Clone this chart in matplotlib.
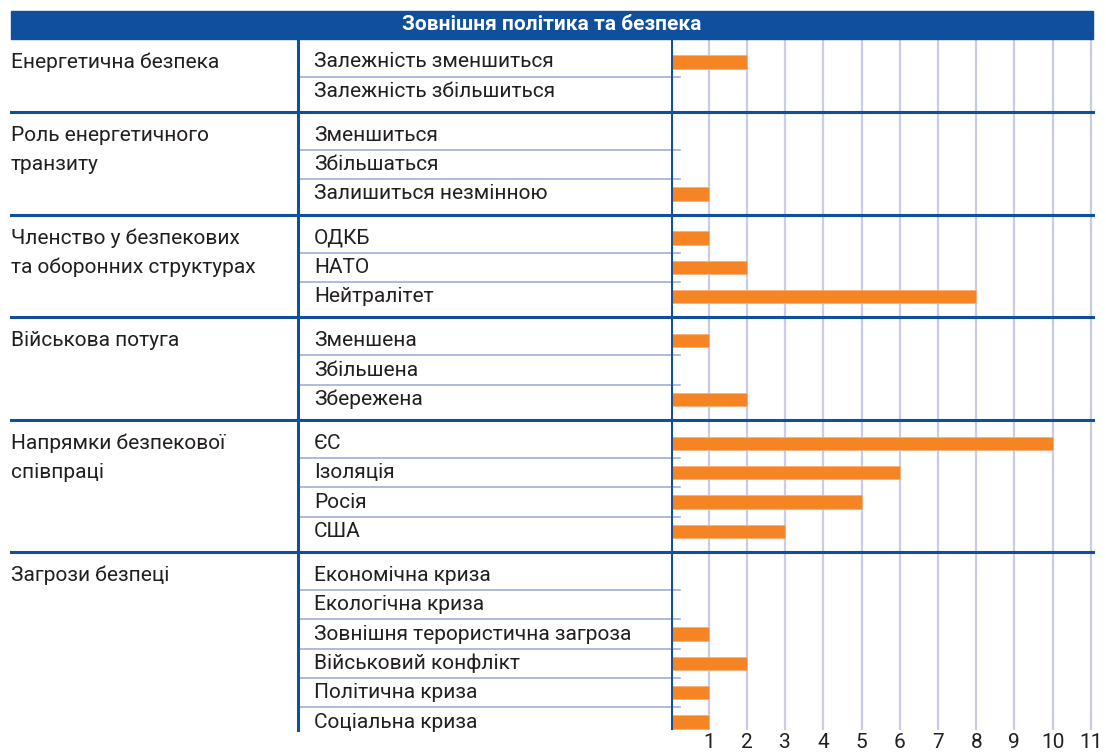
import numpy as np
import matplotlib.pyplot as plt
from matplotlib.transforms import blended_transform_factory

plt.rcParams['font.family'] = ['Roboto', 'DejaVu Sans']

title = "Зовнішня політика та безпека"
groups = [
    ["Енергетична безпека"],
    ["Роль енергетичного", "транзиту"],
    ["Членство у безпекових", "та оборонних структурах"],
    ["Військова потуга"],
    ["Напрямки безпекової", "співпраці"],
    ["Загрози безпеці"],
]
items = [
    ["Залежність зменшиться", "Залежність збільшиться"],
    ["Зменшиться", "Збільшаться", "Залишиться незмінною"],
    ["ОДКБ", "НАТО", "Нейтралітет"],
    ["Зменшена", "Збільшена", "Збережена"],
    ["ЄС", "Ізоляція", "Росія", "США"],
    ["Економічна криза", "Екологічна криза", "Зовнішня терористична загроза",
     "Військовий конфлікт", "Політична криза", "Соціальна криза"],
]
values = [
    [2, 0],
    [0, 0, 1],
    [1, 2, 8],
    [1, 0, 2],
    [10, 6, 5, 3],
    [0, 0, 1, 2, 1, 1],
]
ticks = list(range(1, 12))

blue = "#0f4f9e"
orange = "#f48424"
grid_c = "#c9cce6"
thin_c = "#9da6d6"
txt_c = "#231f20"
fs = 15

W, H = 1106, 754
fig = plt.figure(figsize=(W / 100, H / 100), dpi=100)
ax = fig.add_axes([670.8 / W, 24 / H, (1093 - 670.8) / W, (730 - 38.5) / H])

pad_top, pad_bot = 0.3, 0.2
centers, seps, inner = [], [], []
top = 0.0
for g, its in enumerate(items):
    c = [top + pad_top + i + 0.5 for i in range(len(its))]
    centers.append(c)
    inner += [top + pad_top + i for i in range(1, len(its))]
    top = top + pad_top + len(its) + pad_bot
    seps.append(top)
y_bottom = centers[-1][-1] + 0.27

ax.set_xlim(0, 11.06)
ax.set_ylim(y_bottom, 0)
for s in ax.spines.values():
    s.set_visible(False)
ax.set_yticks([])
ax.set_xticks(ticks)
ax.set_xticklabels([str(t) for t in ticks], fontsize=fs, color=txt_c)
ax.tick_params(axis='x', length=0, pad=2)

for t in ticks:
    ax.axvline(t, color=grid_c, lw=1.6, zorder=0)

for c, v in zip(centers, values):
    ax.barh(c, v, height=0.45, left=0, color=orange, edgecolor="#f7b07a", lw=0.6, zorder=2)

ax.axvline(0, color=blue, lw=2.2, zorder=3)

trf = blended_transform_factory(fig.transFigure, ax.transData)
tra = blended_transform_factory(fig.transFigure, ax.transAxes)

# group separators
for s in seps[:-1]:
    ax.plot([11 / W, 1093 / W], [s, s], transform=trf, color=blue, lw=2.2,
            clip_on=False, zorder=4)
# thin separators between items
for y in inner:
    ax.plot([299 / W, 680 / W], [y, y], transform=trf, color=thin_c, lw=1.1,
            clip_on=False, zorder=1)
# column divider
ax.plot([298 / W, 298 / W], [0, 1], transform=tra, color=blue, lw=2.2,
        clip_on=False, zorder=4)

for g, (labs, its, c) in enumerate(zip(groups, items, centers)):
    for k, lab in enumerate(labs):
        ax.text(11 / W, c[k], lab, transform=trf, ha='left', va='center',
                fontsize=fs, color=txt_c)
    for lab, y in zip(its, c):
        ax.text(314 / W, y, lab, transform=trf, ha='left', va='center',
                fontsize=fs, color=txt_c)

# header band
fig.patches.append(plt.Rectangle((11 / W, 1 - 38.7 / H), (1093 - 11) / W, 27.7 / H,
                                 transform=fig.transFigure, color=blue, zorder=5))
fig.text(552 / W, 1 - 25 / H, title, ha='center', va='center', color='white',
         fontsize=15, fontweight='bold', zorder=6)

fig.savefig("out.png", dpi=100)
